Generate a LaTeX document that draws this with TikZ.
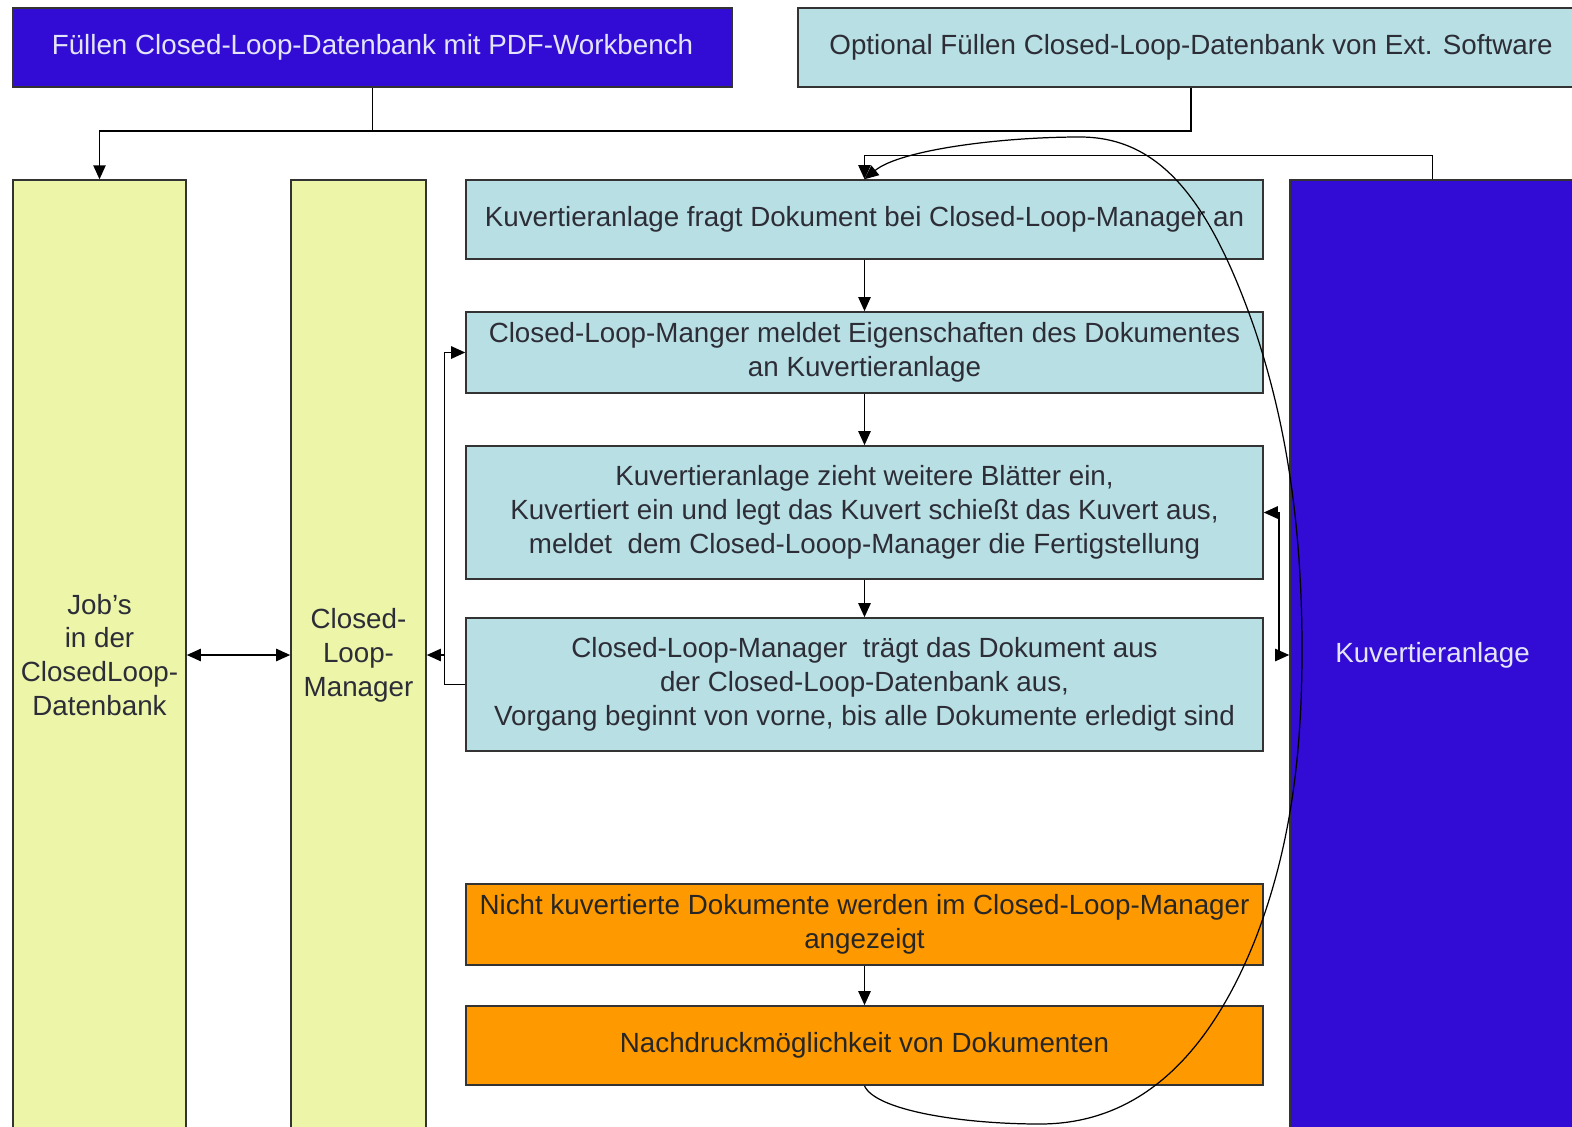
\documentclass[tikz,border=0pt]{standalone}
\usepackage{fontspec}
\setmainfont{Liberation Sans}
\usetikzlibrary{arrows.meta}
\definecolor{tiefblau}{RGB}{50,12,212}
\definecolor{hellcyan}{RGB}{184,224,228}
\definecolor{hellgelb}{RGB}{236,245,168}
\definecolor{kastenorange}{RGB}{255,153,0}
\definecolor{blautext}{RGB}{228,228,250}
\definecolor{dunkeltext}{RGB}{45,45,55}

\begin{document}
\begin{tikzpicture}[
  x=0.02cm, y=-0.02cm,
  >={Triangle[length=8pt,width=7pt]},
  line width=0.9pt,
  feld/.style={draw=black!80, align=center, inner sep=0pt,
    font=\fontsize{15.8}{19.3}\selectfont},
  blaukasten/.style={feld, fill=tiefblau, text=blautext},
  kasten/.style={feld, fill=hellcyan, text=dunkeltext, minimum width=15.94cm},
  saeule/.style={feld, fill=hellgelb, text=dunkeltext, minimum height=19cm},
  warnkasten/.style={kasten, fill=kastenorange, text=black!85}
]
\useasboundingbox (0,0) rectangle (1572,1126);
\clip (0,0) rectangle (1572,1126);

\node[blaukasten, minimum width=14.38cm, minimum height=1.58cm] (fuellen) at (372.5,47.5)
  {Füllen Closed-Loop-Datenbank mit PDF-Workbench};
\node[kasten, minimum width=15.72cm, minimum height=1.58cm] (optional) at (1191,47.5)
  {Optional Füllen Closed-Loop-Datenbank von Ext. Software};

\node[saeule, minimum width=3.46cm] (jobs) at (99.5,655) {Job's\\in der\\ClosedLoop-\\Datenbank};
\node[saeule, minimum width=2.7cm] (manager) at (358.5,655) {Closed-\\Loop-\\Manager};
\node[blaukasten, minimum width=5.7cm, minimum height=19cm] (anlage) at (1432.5,655) {Kuvertieranlage};

\node[kasten, minimum height=1.58cm] (anfrage) at (864.5,219.5)
  {Kuvertieranlage fragt Dokument bei Closed-Loop-Manager an};
\node[kasten, minimum height=1.62cm] (meldung) at (864.5,352.5)
  {Closed-Loop-Manger meldet Eigenschaften des Dokumentes\\an Kuvertieranlage};
\node[kasten, minimum height=2.66cm] (einzug) at (864.5,512.5)
  {Kuvertieranlage zieht weitere Blätter ein,\\Kuvertiert ein und legt das Kuvert schießt das Kuvert aus,\\meldet\ \ dem Closed-Looop-Manager die Fertigstellung};
\node[kasten, minimum height=2.66cm] (austrag) at (864.5,684.5)
  {Closed-Loop-Manager\ \ trägt das Dokument aus\\der Closed-Loop-Datenbank aus,\\Vorgang beginnt von vorne, bis alle Dokumente erledigt sind};
\node[warnkasten, minimum height=1.62cm] (anzeige) at (864.5,924.5)
  {Nicht kuvertierte Dokumente werden im Closed-Loop-Manager\\angezeigt};
\node[warnkasten, minimum height=1.58cm] (nachdruck) at (864.5,1045.5)
  {Nachdruckmöglichkeit von Dokumenten};

\coordinate (knick) at (372.5,131);
\draw[->] (fuellen.south) -- (knick) -| (jobs.north);
\draw (optional.south) |- (knick);
\draw[->] (anlage.north) -- ++(0,-24) -| (anfrage.north);
\foreach \oben/\unten in {anfrage/meldung, meldung/einzug, einzug/austrag, anzeige/nachdruck}
  \draw[->] (\oben.south) -- (\unten.north);
\draw[<->] (jobs.east) -- (manager.west);
\draw[->] (austrag.west) -- ++(-21,0) |- (meldung.west);
\coordinate (ruecklauf) at (445,655);
\draw[->] (ruecklauf) -- (manager.east);
\draw[<->] (einzug.east) -- ++(15,0) |- (anlage.west);

\draw[->, line width=0.7pt] (nachdruck.south)
  .. controls (875,1110) and (960,1124) .. (1040,1124)
  .. controls (1150,1124) and (1215,1040) .. (1255,940)
  .. controls (1292,845) and (1302,750) .. (1302,650)
  .. controls (1302,520) and (1285,420) .. (1255,330)
  .. controls (1210,200) and (1160,137) .. (1080,137)
  .. controls (1000,137) and (900,150) .. (anfrage.north);
\end{tikzpicture}
\end{document}
